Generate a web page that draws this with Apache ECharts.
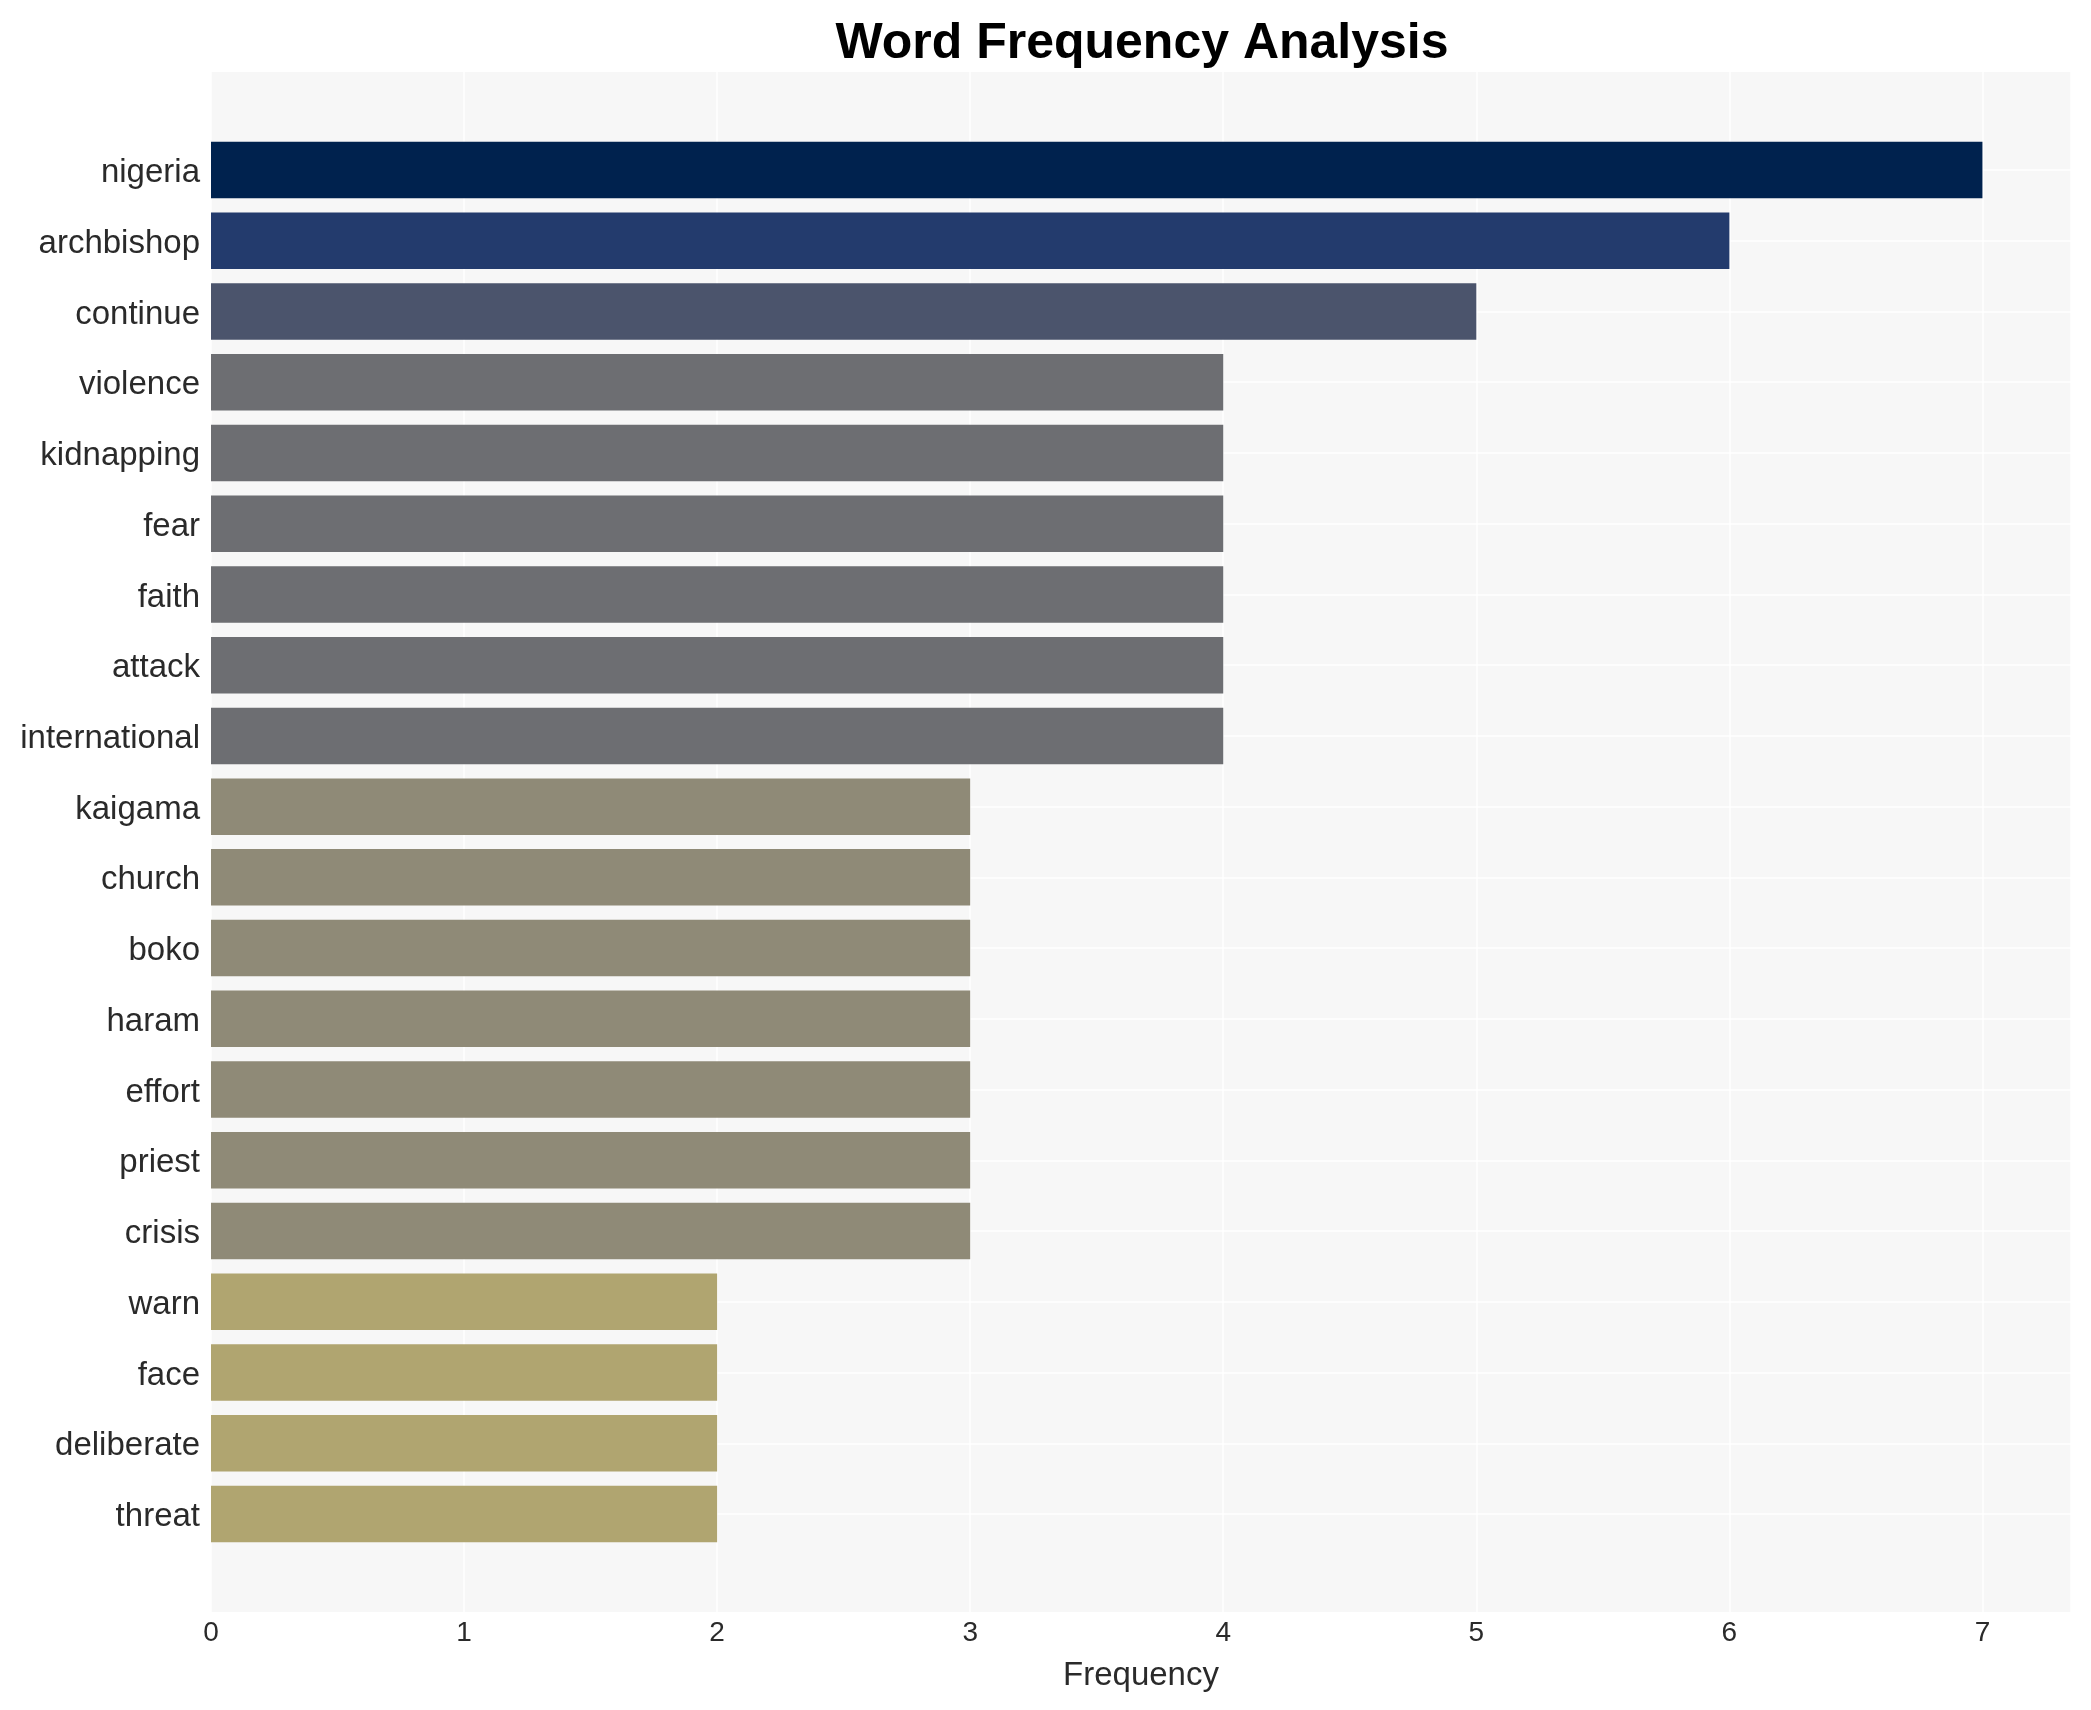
<!DOCTYPE html>
<html>
<head>
<meta charset="utf-8">
<script src="https://cdn.jsdelivr.net/npm/echarts@6/dist/echarts.min.js"></script>
<style>
html,body{margin:0;padding:0;background:#fff;}
#chart{width:2091px;height:1710px;}
</style>
</head>
<body>
<div id="chart"></div>
<script>
const categories = ["nigeria","archbishop","continue","violence","kidnapping","fear","faith","attack","international","kaigama","church","boko","haram","effort","priest","crisis","warn","face","deliberate","threat"];
const frequencies = [7,6,5,4,4,4,4,4,4,3,3,3,3,3,3,3,2,2,2,2];
const barColors = ["#00224e","#233b6d","#4b546c","#6d6e72","#6d6e72","#6d6e72","#6d6e72","#6d6e72","#6d6e72","#8f8a77","#8f8a77","#8f8a77","#8f8a77","#8f8a77","#8f8a77","#8f8a77","#b0a570","#b0a570","#b0a570","#b0a570"];
const xTicks = [0,1,2,3,4,5,6,7];

const chart = echarts.init(document.getElementById('chart'));
const font = 'Liberation Sans, Arial, sans-serif';
chart.setOption({
  backgroundColor: '#ffffff',
  animation: false,
  title: {
    text: 'Word Frequency Analysis',
    left: 1137, top: 39, textAlign: 'center', textVerticalAlign: 'middle',
    textStyle: {fontFamily: font, fontWeight: 'bold', fontSize: 50, color: '#000'}
  },
  grid: [
    {left: 211, right: 20, top: 72, bottom: 98, show: true, backgroundColor: '#f7f7f7', borderWidth: 0},
    {left: 211, right: 20, top: 170, bottom: 196, show: false}
  ],
  xAxis: [
    {type: 'value', gridIndex: 0, min: 0, max: 7.35, interval: 1,
     axisLine: {show: false}, axisTick: {show: false},
     splitLine: {show: true, lineStyle: {color: '#ffffff', width: 1.5}},
     axisLabel: {fontFamily: font, fontSize: 28, color: '#2a2a2a', margin: 7,
       formatter: v => xTicks.indexOf(v) >= 0 ? String(v) : ''},
     name: 'Frequency', nameLocation: 'middle', nameGap: 47,
     nameTextStyle: {fontFamily: font, fontSize: 33, color: '#2a2a2a'}},
    {type: 'value', gridIndex: 1, min: 0, max: 7.35, interval: 1, show: false}
  ],
  yAxis: [
    {type: 'value', gridIndex: 0, show: false, min: 0, max: 1},
    {type: 'category', gridIndex: 1, data: categories, inverse: true, boundaryGap: false,
     axisLine: {show: false}, axisTick: {show: false},
     splitLine: {show: true, lineStyle: {color: '#ffffff', width: 1.5}},
     axisLabel: {margin: 11,
       formatter: v => '{l|' + v + '}',
       rich: {l: {fontFamily: font, fontSize: 33, color: '#2a2a2a', padding: [6, 0, 0, 0]}}}}
  ],
  series: [{
    type: 'bar', xAxisIndex: 1, yAxisIndex: 1, clip: false,
    barWidth: 56.5,
    data: frequencies.map((v, i) => ({value: v, itemStyle: {color: barColors[i]}}))
  }]
});
</script>
</body>
</html>
